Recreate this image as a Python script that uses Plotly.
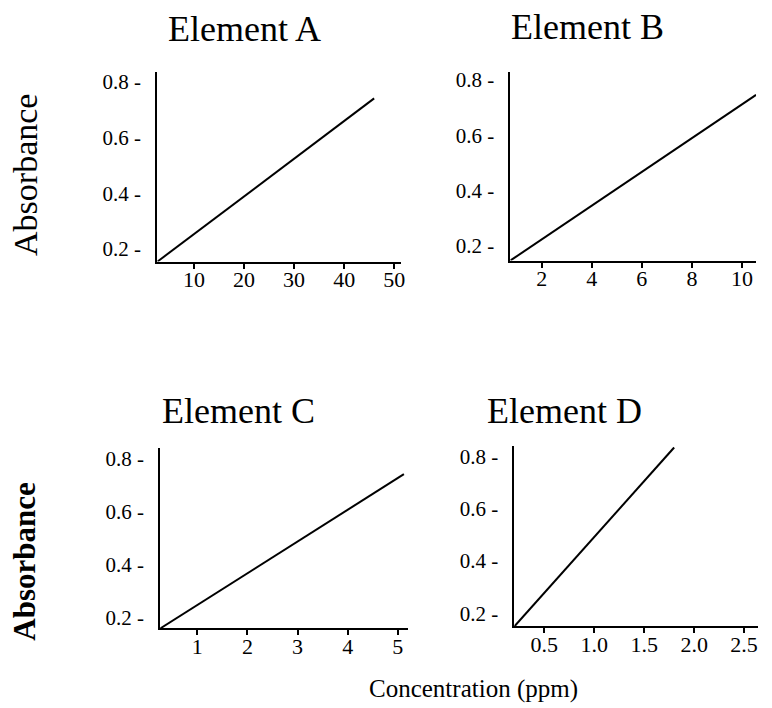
import plotly.graph_objects as go

# page shows the figure offset by the browser's default 8px body margin
OFF = 8
W, H = 772 - OFF, 708 - OFF

panel_titles = ["Element A", "Element B", "Element C", "Element D"]
conc_A = [2.7, 46.0]
abs_A = [0.155, 0.74]
conc_B = [0.75, 10.56]
abs_B = [0.146, 0.746]
conc_C = [0.26, 5.12]
abs_C = [0.159, 0.741]
conc_D = [0.2, 1.8]
abs_D = [0.149, 0.836]

y_ticks = [0.2, 0.4, 0.6, 0.8]
y_ticklabels = ["0.2 -", "0.4 -", "0.6 -", "0.8 -"]
x_ticks_A = [10, 20, 30, 40, 50]
x_ticks_B = [2, 4, 6, 8, 10]
x_ticks_C = [1, 2, 3, 4, 5]
x_ticks_D = [0.5, 1.0, 1.5, 2.0, 2.5]
x_ticklabels_A = ["10", "20", "30", "40", "50"]
x_ticklabels_B = ["2", "4", "6", "8", "10"]
x_ticklabels_C = ["1", "2", "3", "4", "5"]
x_ticklabels_D = ["0.5", "1.0", "1.5", "2.0", "2.5"]

x_label = "Concentration (ppm)"
y_label = "Absorbance"


def px(v):
    return (v - OFF) / W


def py(v):
    return 1 - (v - OFF) / H


panels = [
    dict(x=conc_A, y=abs_A, box=(158, 403, 69, 260), xr=[2.65, 51.35], yr=[0.155, 0.836],
         xt=x_ticks_A, xl=x_ticklabels_A),
    dict(x=conc_B, y=abs_B, box=(513, 760, 69, 259), xr=[0.75, 10.56], yr=[0.146, 0.83],
         xt=x_ticks_B, xl=x_ticklabels_B),
    dict(x=conc_C, y=abs_C, box=(161, 410, 448, 629), xr=[0.26, 5.2], yr=[0.159, 0.838],
         xt=x_ticks_C, xl=x_ticklabels_C),
    dict(x=conc_D, y=abs_D, box=(517, 762, 446, 627), xr=[0.2, 2.64], yr=[0.149, 0.84],
         xt=x_ticks_D, xl=x_ticklabels_D),
]

FONT = "Liberation Serif"
fig = go.Figure()
layout = dict(
    width=W, height=H, margin=dict(l=0, r=0, t=0, b=0),
    paper_bgcolor="white", plot_bgcolor="white", showlegend=False,
    font=dict(family=FONT, color="black"),
)

for i, p in enumerate(panels, start=1):
    sfx = "" if i == 1 else str(i)
    l, r, t, b = p["box"]
    fig.add_trace(go.Scatter(x=p["x"], y=p["y"], mode="lines",
                             line=dict(color="black", width=2),
                             xaxis="x" + sfx, yaxis="y" + sfx, hoverinfo="skip"))
    layout["xaxis" + sfx] = dict(
        domain=[px(l), px(r)], range=p["xr"], anchor="y" + sfx,
        showline=True, linecolor="black", linewidth=2, showgrid=False, zeroline=False,
        tickmode="array", tickvals=p["xt"], ticktext=p["xl"],
        ticks="outside", ticklen=5, tickwidth=1.5, tickcolor="black",
        ticklabelstandoff=-8,
        tickfont=dict(family=FONT, size=22, color="black"),
    )
    layout["yaxis" + sfx] = dict(
        domain=[py(b), py(t)], range=p["yr"], anchor="x" + sfx,
        showline=True, linecolor="black", linewidth=2, showgrid=False, zeroline=False,
        tickmode="array", tickvals=y_ticks, ticktext=y_ticklabels,
        ticks="", ticklabelstandoff=10,
        tickfont=dict(family=FONT, size=21, color="black"),
    )

fig.update_layout(**layout)

title_pos = [(246, 39.5), (591, 37.5), (240, 423), (567.5, 423)]
for txt, (cx, base) in zip(panel_titles, title_pos):
    fig.add_annotation(text=txt, x=px(cx), y=py(base + 9), xref="paper", yref="paper",
                       xanchor="center", yanchor="bottom", showarrow=False,
                       font=dict(family=FONT, size=36, color="black"))

fig.add_annotation(text=x_label, x=px(476), y=py(700 + 6), xref="paper", yref="paper",
                   xanchor="center", yanchor="bottom", showarrow=False,
                   font=dict(family=FONT, size=25, color="black"))
fig.add_annotation(text=y_label, x=px(25), y=py(173), xref="paper", yref="paper",
                   xanchor="center", yanchor="middle", textangle=-90, showarrow=False,
                   font=dict(family=FONT, size=34, color="black"))
fig.add_annotation(text="<b>" + y_label + "</b>", x=px(25), y=py(562), xref="paper", yref="paper",
                   xanchor="center", yanchor="middle", textangle=-90, showarrow=False,
                   font=dict(family=FONT, size=31, color="black"))

fig.write_html("out.html")
